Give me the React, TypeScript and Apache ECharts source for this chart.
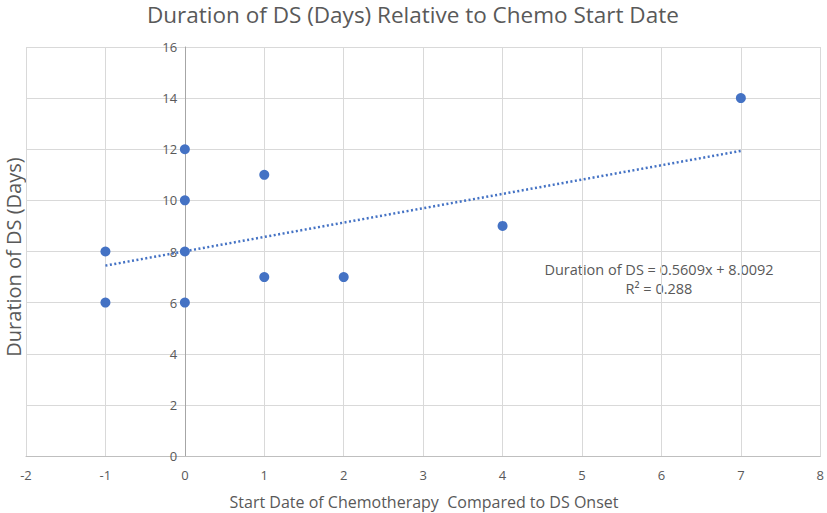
import React, { useEffect, useRef } from "react";
import * as echarts from "echarts";

const titleText = "Duration of DS (Days) Relative to Chemo Start Date";
const xTitle = "Start Date of Chemotherapy  Compared to DS Onset";
const yTitle = "Duration of DS (Days)";
const startDates = [-1, -1, 0, 0, 0, 0, 1, 1, 2, 4, 7];
const durations = [8, 6, 12, 10, 8, 6, 11, 7, 7, 9, 14];
const trendX = [-1, 7];
const trendY = [7.448, 11.936];
const equationLines = ["Duration of DS = 0.5609x + 8.0092", "R² = 0.288"];

const FONT = "'Open Sans', 'Noto Sans', sans-serif";
const GRID_LEFT = 26;
const GRID_RIGHT = 5;
const X_MIN = -2;
const X_MAX = 8;

export default function App() {
  const ref = useRef<HTMLDivElement>(null);
  useEffect(() => {
    if (!ref.current) return;
    const chart = echarts.init(ref.current, undefined, { renderer: "svg" });
    const points = startDates.map((x, i) => [x, durations[i]]);
    const trend = trendX.map((x, i) => [x, trendY[i]]);
    const plotW = 827 - GRID_LEFT - GRID_RIGHT;
    const yAxisOffset = -((0 - X_MIN) / (X_MAX - X_MIN)) * plotW;
    chart.setOption({
      animation: false,
      backgroundColor: "#ffffff",
      textStyle: { fontFamily: FONT },
      title: {
        text: titleText,
        left: 142,
        top: -2,
        textStyle: { fontFamily: FONT, fontSize: 22.5, fontWeight: "normal", color: "#595959" },
      },
      grid: { left: GRID_LEFT, right: GRID_RIGHT, top: 47, bottom: 57, containLabel: false },
      xAxis: {
        type: "value",
        min: X_MIN,
        max: X_MAX,
        interval: 1,
        axisLine: { onZero: true, lineStyle: { color: "#bfbfbf", width: 1 } },
        axisTick: { show: false },
        axisLabel: { color: "#595959", fontSize: 13, margin: 12, fontFamily: FONT },
        splitLine: { show: true, lineStyle: { color: "#d9d9d9", width: 1 } },
      },
      yAxis: {
        type: "value",
        min: 0,
        max: 16,
        interval: 2,
        offset: yAxisOffset,
        axisLine: { show: true, onZero: false, lineStyle: { color: "#a6a6a6", width: 1 } },
        axisTick: { show: false },
        axisLabel: { color: "#595959", fontSize: 13, margin: 8, fontFamily: FONT },
        splitLine: { show: true, lineStyle: { color: "#d9d9d9", width: 1 } },
      },
      graphic: [
        {
          type: "text",
          x: 424,
          y: 494,
          style: {
            text: xTitle,
            fill: "#595959",
            font: `16px ${FONT}`,
            textAlign: "center",
            textVerticalAlign: "top",
          },
        },
        {
          type: "text",
          x: 3,
          y: 257,
          rotation: Math.PI / 2,
          style: {
            text: yTitle,
            fill: "#595959",
            font: `20px ${FONT}`,
            textAlign: "center",
            textVerticalAlign: "top",
          },
        },
        {
          type: "text",
          x: 659,
          y: 260,
          style: {
            text: equationLines.join("\n"),
            fill: "#595959",
            font: `14.5px ${FONT}`,
            textAlign: "center",
            textVerticalAlign: "top",
            lineHeight: 19,
          },
        },
      ],
      series: [
        {
          type: "line",
          data: trend,
          showSymbol: false,
          symbol: "none",
          lineStyle: { color: "#4472c4", width: 2.5, type: [2, 2.5] },
          z: 2,
        },
        {
          type: "scatter",
          data: points,
          symbol: "circle",
          symbolSize: 10,
          itemStyle: { color: "#4472c4", opacity: 1 },
          z: 3,
        },
      ],
    });
    return () => chart.dispose();
  }, []);
  return <div ref={ref} style={{ width: 827, height: 513, position: "absolute", left: 0, top: 0 }} />;
}
